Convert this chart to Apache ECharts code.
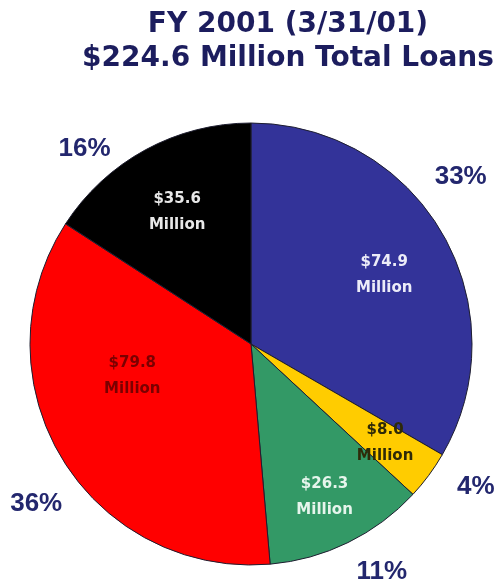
<!DOCTYPE html>
<html>
<head>
<meta charset="utf-8">
<title>FY 2001 Total Loans</title>
<script src="https://cdn.jsdelivr.net/npm/echarts@6/dist/echarts.min.js"></script>
<style>
  html, body { margin: 0; padding: 0; background: #ffffff; }
  #chart { width: 500px; height: 583px; }
</style>
</head>
<body>
<div id="chart"></div>
<script>
// Loan portfolio by segment, in millions of dollars (clockwise from 12 o'clock)
const segments = ['Blue', 'Yellow', 'Green', 'Red', 'Black'];
const loanValues = [74.9, 8.0, 26.3, 79.8, 35.6];
const percentLabels = ['33%', '4%', '11%', '36%', '16%'];
const titleLines = ['FY 2001 (3/31/01)', '$224.6 Million Total Loans'];

const sliceColors = ['#333399', '#ffcc00', '#339966', '#ff0000', '#000000'];
const valueTextColors = ['#ececf8', '#2e2a08', '#e6f5ec', '#7a0000', '#e8e8e8'];
// small nudges so each caption sits where it reads best inside/around its slice
const valueLabelOffsets = [[-8, 13], [3, 2], [2, 7], [21, -52], [4, 11]];
const percentLabelOffsets = [[-8, -9], [-7, 6], [-12, 0], [0, -2], [-14, 26]];

const center = [251, 344];

const chart = echarts.init(document.getElementById('chart'), null, { renderer: 'canvas' });

const pieData = segments.map((name, i) => ({
  name,
  value: loanValues[i],
  itemStyle: { color: sliceColors[i] }
}));

const valueRingData = segments.map((name, i) => ({
  name,
  value: loanValues[i],
  label: { color: valueTextColors[i], offset: valueLabelOffsets[i] }
}));

const percentRingData = segments.map((name, i) => ({
  name,
  value: loanValues[i],
  label: { formatter: percentLabels[i], offset: percentLabelOffsets[i] }
}));

const transparentRing = {
  type: 'pie',
  center,
  silent: true,
  clockwise: true,
  avoidLabelOverlap: false,
  itemStyle: { color: 'rgba(0,0,0,0)', borderWidth: 0 },
  labelLine: { show: false },
  emphasis: { disabled: true }
};

chart.setOption({
  backgroundColor: '#ffffff',
  animation: false,
  title: {
    text: titleLines.join('\n'),
    left: 288,
    top: 8,
    padding: 0,
    textAlign: 'center',
    textStyle: {
      fontFamily: 'DejaVu Sans',
      fontWeight: 'bold',
      fontSize: 28,
      lineHeight: 34,
      color: '#1c1d5e'
    }
  },
  series: [
    {
      type: 'pie',
      center,
      radius: 221,
      startAngle: 90,
      clockwise: true,
      silent: true,
      avoidLabelOverlap: false,
      label: { show: false },
      labelLine: { show: false },
      itemStyle: { borderColor: '#1e1e30', borderWidth: 1 },
      emphasis: { disabled: true },
      data: pieData
    },
    Object.assign({}, transparentRing, {
      radius: [120, 200],
      startAngle: 90,
      label: {
        show: true,
        position: 'inside',
        fontFamily: 'DejaVu Sans',
        fontWeight: 'bold',
        fontSize: 15,
        lineHeight: 26,
        formatter: p => '$' + p.value.toFixed(1) + '\nMillion'
      },
      data: valueRingData
    }),
    Object.assign({}, transparentRing, {
      radius: [250, 282],
      startAngle: 96,
      label: {
        show: true,
        position: 'inside',
        fontFamily: 'Liberation Sans',
        fontWeight: 'bold',
        fontSize: 26,
        color: '#23276e'
      },
      data: percentRingData
    })
  ]
});
</script>
</body>
</html>
